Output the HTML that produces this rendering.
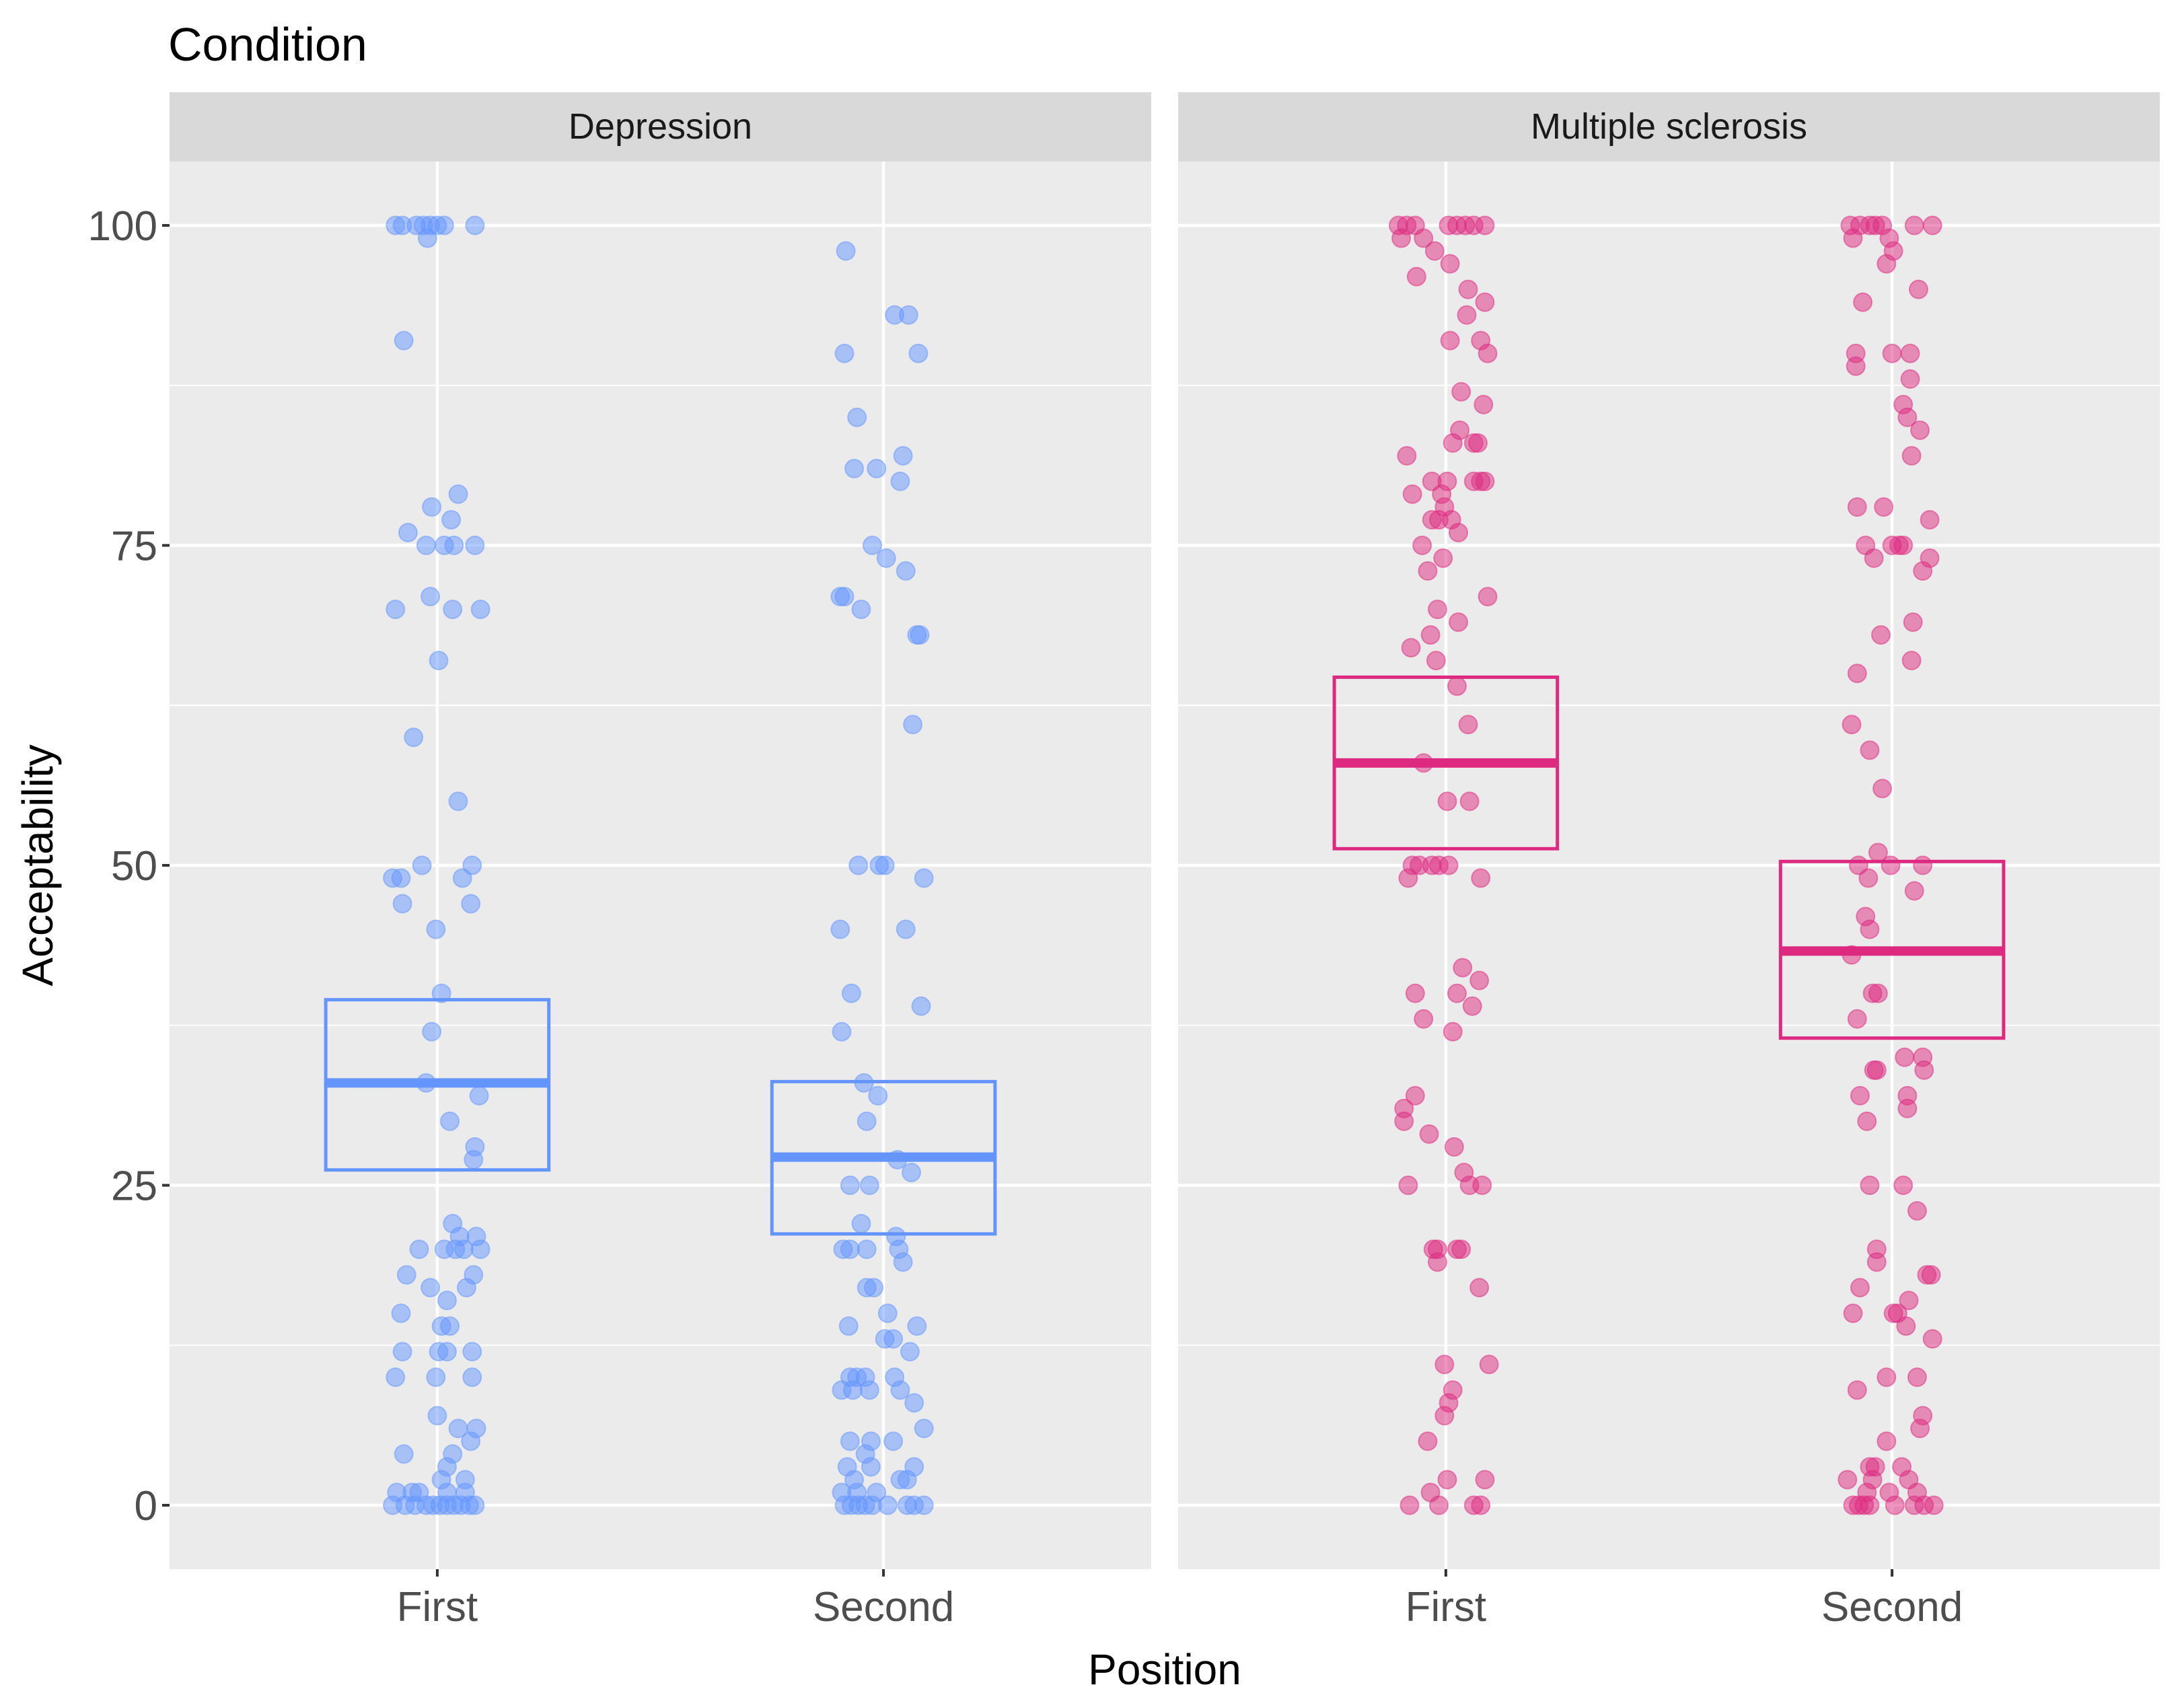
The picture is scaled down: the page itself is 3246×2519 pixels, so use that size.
<!DOCTYPE html>
<html><head><meta charset="utf-8"><style>
html,body{margin:0;padding:0;background:#fff;}
svg{display:block;font-family:"Liberation Sans",sans-serif;}
</style></head><body>
<svg id="chart" width="3246" height="2519" viewBox="0 0 3246 2519" xmlns="http://www.w3.org/2000/svg">
<text x="250" y="90" font-size="70" fill="#000">Condition</text>
<g id="panels"></g>
<text x="1731" y="2503" font-size="64" text-anchor="middle" fill="#000">Position</text>
<text transform="translate(78,1286) rotate(-90)" font-size="64" text-anchor="middle" fill="#000">Acceptability</text>
</svg>
<script>
// Data: categories, tick labels, points [value, jitter in 1/320 category units], crossbar summaries
const facets = ["Depression", "Multiple sclerosis"];
const categories = ["First", "Second"];
const yTicks = [0, 25, 50, 75, 100];
const yTickLabels = ["0", "25", "50", "75", "100"];
const depFirst = [[100,-30],[100,-25],[100,-15],[100,-10],[100,-5],[100,0],[100,5],[100,27],[99,-7],[91,-24],[79,15],[78,-4],[77,10],[76,-21],[75,-8],[75,5],[75,12],[75,27],[71,-5],[70,-30],[70,11],[70,31],[66,1],[60,-17],[55,15],[50,-11],[50,25],[49,-32],[49,-26],[49,18],[47,-25],[47,24],[45,-1],[40,3],[37,-4],[33,-8],[32,30],[30,9],[28,27],[27,26],[22,11],[21,16],[21,28],[20,-13],[20,5],[20,13],[20,19],[20,31],[18,-22],[18,26],[17,-5],[17,21],[16,7],[15,-26],[14,3],[14,9],[12,-25],[12,1],[12,7],[12,25],[10,-30],[10,-1],[10,25],[7,0],[6,15],[6,28],[5,24],[4,-24],[4,11],[3,7],[2,3],[2,20],[1,-29],[1,-18],[1,-13],[1,7],[1,20],[0,-32],[0,-23],[0,-16],[0,-8],[0,-3],[0,2],[0,7],[0,12],[0,17],[0,23],[0,27]];
const depSecond = [[98,-27],[93,8],[93,18],[90,-28],[90,25],[85,-19],[82,14],[81,-21],[81,-5],[80,12],[75,-8],[74,2],[73,16],[71,-31],[71,-28],[70,-16],[68,24],[68,26],[61,21],[50,-18],[50,-3],[50,1],[49,29],[45,-31],[45,16],[40,-23],[39,27],[37,-30],[33,-14],[32,-4],[30,-12],[27,10],[26,20],[25,-24],[25,-10],[22,-16],[21,9],[20,-29],[20,-24],[20,-12],[20,11],[19,14],[17,-12],[17,-7],[15,3],[14,-25],[14,24],[13,1],[13,7],[12,19],[10,-24],[10,-19],[10,-13],[10,8],[9,-30],[9,-22],[9,-10],[9,12],[8,22],[6,29],[5,-24],[5,-9],[5,7],[4,-13],[3,-26],[3,-9],[3,22],[2,-21],[2,12],[2,17],[1,-30],[1,-19],[1,-5],[0,-28],[0,-23],[0,-18],[0,-13],[0,-8],[0,3],[0,17],[0,22],[0,29]];
const msFirst = [[100,-34],[100,-28],[100,-22],[100,2],[100,8],[100,14],[100,20],[100,28],[99,-32],[99,-16],[98,-8],[97,3],[96,-21],[95,16],[94,28],[93,15],[91,3],[91,25],[90,30],[87,11],[86,27],[84,10],[83,5],[83,20],[83,23],[82,-28],[80,-10],[80,1],[80,20],[80,25],[80,28],[79,-24],[79,-3],[78,-1],[77,-10],[77,-5],[77,4],[76,9],[75,-17],[74,-2],[73,-13],[71,30],[70,-6],[69,9],[68,-11],[67,-25],[66,-7],[64,8],[61,16],[58,-16],[55,1],[55,17],[50,-24],[50,-19],[50,-10],[50,-5],[50,2],[49,-27],[49,25],[42,12],[41,24],[40,-22],[40,8],[39,19],[38,-16],[37,5],[32,-22],[31,-30],[30,-30],[29,-12],[28,6],[26,13],[25,-27],[25,17],[25,26],[20,-9],[20,-6],[20,8],[20,11],[19,-6],[17,24],[11,-1],[11,31],[9,5],[8,2],[7,-1],[5,-13],[2,1],[2,28],[1,-11],[0,-26],[0,-5],[0,20],[0,25]];
const msSecond = [[100,-30],[100,-23],[100,-16],[100,-12],[100,-7],[100,16],[100,29],[99,-28],[99,-2],[98,1],[97,-4],[95,19],[94,-21],[90,-26],[90,0],[90,13],[89,-26],[88,13],[86,8],[85,11],[84,20],[82,14],[78,-25],[78,-6],[77,27],[75,-19],[75,0],[75,5],[75,8],[74,-13],[74,27],[73,22],[69,15],[68,-8],[66,14],[65,-25],[61,-29],[59,-16],[56,-7],[51,-10],[50,-24],[50,-1],[50,22],[49,-17],[48,16],[46,-19],[45,-16],[43,-29],[40,-14],[40,-10],[38,-25],[35,9],[35,22],[34,-13],[34,-11],[34,23],[32,-23],[32,11],[31,11],[30,-18],[25,-16],[25,8],[23,18],[20,-11],[19,-11],[18,25],[18,28],[17,-23],[16,12],[15,-28],[15,1],[15,4],[14,10],[13,29],[10,-4],[10,18],[9,-25],[7,22],[6,20],[5,-4],[3,-16],[3,-12],[3,7],[2,-32],[2,-14],[2,12],[1,-18],[1,-2],[1,18],[0,-28],[0,-24],[0,-20],[0,-16],[0,2],[0,16],[0,23],[0,30]];
const pointSets = [[depFirst, depSecond], [msFirst, msSecond]];
// crossbar: [lower, middle, upper]
const barLower = [[26.2, 21.2], [51.3, 36.5]];
const barMiddle = [[33.0, 27.2], [58.0, 43.3]];
const barUpper = [[39.5, 33.1], [64.7, 50.3]];
const colors = ["#6495ff", "#dd2a80"];

const NS = "http://www.w3.org/2000/svg";
const panelX = [252, 1751], panelW = 1459;
const plotTop = 240, plotBottom = 2332, stripTop = 137;
function yScale(v){ return 2237 - (v - 0) * (2237 - 335) / 100; }
const unit = panelW / 2.2;
function xScale(p, c){ return panelX[p] + 0.6 * unit + c * unit; }
const jitterUnit = unit / 320;
function mk(tag, attrs, parent){
  const e = document.createElementNS(NS, tag);
  for (const k in attrs) e.setAttribute(k, attrs[k]);
  parent.appendChild(e); return e;
}
const root = document.getElementById("panels");
facets.forEach((f, p) => {
  const g = mk("g", {}, root);
  
  
  const bg = mk("rect", {x: panelX[p], y: plotTop, width: panelW, height: plotBottom - plotTop, fill: "#ebebeb"}, g);
  
  
  const st = mk("rect", {x: panelX[p], y: stripTop, width: panelW, height: plotTop - stripTop, fill: "#d9d9d9"}, g);
  
  
  const stt = mk("text", {x: panelX[p] + panelW / 2, y: 206, "font-size": 54, "text-anchor": "middle", fill: "#1a1a1a"}, g);
  stt.textContent = f;
  
  
  for (let i = 0; i < yTicks.length - 1; i++) {
    const v = (yTicks[i] + yTicks[i + 1]) / 2;
    const l = mk("line", {x1: panelX[p], x2: panelX[p] + panelW, y1: yScale(v), y2: yScale(v), stroke: "#fff", "stroke-width": 2}, g);
    
    
  }
  yTicks.forEach((v, i) => {
    const l = mk("line", {x1: panelX[p], x2: panelX[p] + panelW, y1: yScale(v), y2: yScale(v), stroke: "#fff", "stroke-width": 4.5}, g);
    
    
    if (p === 0) {
      const t = mk("line", {x1: panelX[0] - 11, x2: panelX[0], y1: yScale(v), y2: yScale(v), stroke: "#333", "stroke-width": 4}, g);
      
      
      const tl = mk("text", {x: panelX[0] - 18, y: yScale(v) + 22, "font-size": 62, "text-anchor": "end", fill: "#4d4d4d"}, g);
      tl.textContent = yTickLabels[i];
      
      
    }
  });
  categories.forEach((c, ci) => {
    const x = xScale(p, ci);
    const l = mk("line", {x1: x, x2: x, y1: plotTop, y2: plotBottom, stroke: "#fff", "stroke-width": 4.5}, g);
    
    
    const t = mk("line", {x1: x, x2: x, y1: plotBottom, y2: plotBottom + 11, stroke: "#333", "stroke-width": 4}, g);
    
    
    const tl = mk("text", {x: x, y: 2409, "font-size": 62, "text-anchor": "middle", fill: "#4d4d4d"}, g);
    tl.textContent = c;
    
    
  });
  categories.forEach((c, ci) => {
    const cx = xScale(p, ci);
    pointSets[p][ci].forEach(d => {
      const pt = mk("circle", {cx: cx + d[1] * jitterUnit, cy: yScale(d[0]), r: 13.5, fill: colors[p], "fill-opacity": 0.5, stroke: colors[p], "stroke-opacity": 0.5, "stroke-width": 2}, g);
      
      
    });
  });
  categories.forEach((c, ci) => {
    const cx = xScale(p, ci), hw = unit * 0.25;
    const bx = mk("rect", {x: cx - hw, y: yScale(barUpper[p][ci]), width: 2 * hw, height: yScale(barLower[p][ci]) - yScale(barUpper[p][ci]), fill: "none", stroke: colors[p], "stroke-width": 5}, g);
    
    
    const md = mk("line", {x1: cx - hw, x2: cx + hw, y1: yScale(barMiddle[p][ci]), y2: yScale(barMiddle[p][ci]), stroke: colors[p], "stroke-width": 14}, g);
    
    
  });
});
</script>
</body></html>
